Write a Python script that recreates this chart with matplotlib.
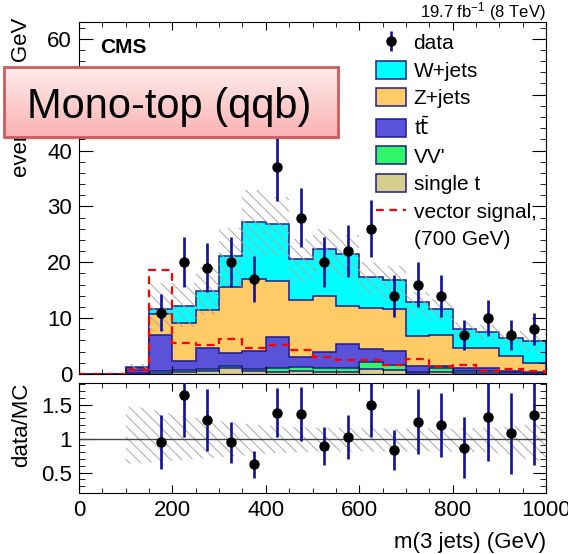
import numpy as np
import matplotlib
matplotlib.use('Agg')
import matplotlib.pyplot as plt
from matplotlib.ticker import MultipleLocator
from matplotlib.patches import Patch, Rectangle
from matplotlib.lines import Line2D

plt.rcParams['font.family'] = ['Liberation Sans', 'DejaVu Sans']
plt.rcParams['mathtext.default'] = 'regular'
plt.rcParams['hatch.linewidth'] = 0.7

# 50 GeV bins from 0 to 1000
edges = np.arange(0, 1050, 50)
centers = 0.5 * (edges[:-1] + edges[1:])

data = np.array([0, 0, 0, 11, 20, 19, 20, 17, 37, 28, 20, 22, 26, 14, 16, 14, 7, 10, 7, 8])

single_t = np.array([0, 0, 0.0, 0.1, 0.4, 0.6, 1.0, 0.5, 0.4, 0.5,
                     0.4, 0.4, 0.9, 0.7, 0.1, 0.3, 0.2, 0.2, 0.1, 0.05])
vv = np.array([0, 0, 0.1, 0.35, 0.4, 0.3, 0.4, 0.4, 0.75, 0.7,
               0.7, 0.7, 1.2, 0.9, 0.3, 0.7, 0.3, 0.3, 0.2, 0.2])
ttbar = np.array([0, 0, 0.7, 6.45, 1.5, 3.8, 2.4, 3.3, 5.45, 1.9,
                  2.9, 4.3, 2.3, 2.5, 1.0, 0.5, 0.6, 0.6, 0.2, 0.1])
zjets = np.array([0, 0, 0.2, 3.9, 6.9, 6.8, 11.8, 12.8, 10.1, 10.2,
                  9.9, 6.8, 7.4, 7.5, 5.4, 5.4, 3.6, 3.5, 2.7, 1.65])
wjets = np.array([0, 0, 0.2, 0.8, 3.0, 3.4, 5.5, 10.2, 10.1, 7.3,
                  8.5, 9.2, 5.6, 5.2, 6.0, 4.8, 3.4, 3.0, 3.3, 3.9])

signal = np.array([0, 0, 0.7, 18.6, 5.6, 5.2, 6.2, 4.7, 5.2, 4.25,
                   3.1, 2.45, 2.45, 1.7, 2.65, 1.2, 1.7, 0.6, 0.9, 0.6])

# relative uncertainty on the total background (up / down)
syst_up = np.array([0, 0, 0.47, 0.40, 0.33, 0.28, 0.24, 0.21, 0.18, 0.17,
                    0.16, 0.16, 0.15, 0.15, 0.15, 0.15, 0.15, 0.16, 0.18, 0.22])
syst_dn = np.array([0, 0, 0.37, 0.34, 0.31, 0.29, 0.26, 0.24, 0.21, 0.20,
                    0.19, 0.19, 0.19, 0.19, 0.19, 0.19, 0.19, 0.20, 0.24, 0.33])

# uncertainty on data/MC for the bins with data
ratio_err = np.array([0.40, 0.61, 0.45, 0.30, 0.20, 0.36, 0.40, 0.28, 0.32,
                      0.47, 0.30, 0.48, 0.47, 0.45, 0.64, 0.59, 0.75])

labels = ['single t', "VV'", r't$\bar{\rm t}$', 'Z+jets', 'W+jets']
colors = ['#d4cd8c', '#33f56a', '#5a52d8', '#ffcb66', '#00ffff']
navy = '#1c1c8c'
ebar = '#10109c'
hatch = '\\\\\\'

W, H = 568, 554
fig = plt.figure(figsize=(W / 100, H / 100), dpi=100)
ax = fig.add_axes([79 / W, 1 - 374 / H, 467 / W, 352 / H])
rax = fig.add_axes([79 / W, 1 - 493 / H, 467 / W, 110 / H])

# stacked backgrounds, drawn from the full sum down
layers = [single_t, vv, ttbar, zjets, wjets]
cum = np.cumsum(layers, axis=0)
for top, c in reversed(list(zip(cum, colors))):
    ax.stairs(top, edges, baseline=0, fill=True, facecolor=c,
              edgecolor=navy, linewidth=1.1, zorder=1)
total = cum[-1]

ax.bar(centers, total * (syst_up + syst_dn), width=50, bottom=total * (1 - syst_dn),
       fill=False, hatch=hatch, edgecolor='#a8a8a8', linewidth=0, zorder=2)

ax.stairs(signal, edges, color='red', linestyle=(0, (3.5, 2.5)), linewidth=1.6, zorder=3)

m = data > 0
dat = ax.errorbar(centers[m], data[m], yerr=np.sqrt(data[m]), fmt='o', color='black',
                  ecolor=ebar, elinewidth=1.9, markersize=6.5, capsize=0, zorder=5)

ax.set_xlim(0, 1000)
ax.set_ylim(0, 63)
ax.xaxis.set_major_locator(MultipleLocator(200))
ax.xaxis.set_minor_locator(MultipleLocator(50))
ax.yaxis.set_major_locator(MultipleLocator(10))
ax.yaxis.set_minor_locator(MultipleLocator(2))
ax.tick_params(which='both', direction='in', top=True, right=True, labelsize=16, pad=5)
ax.tick_params(axis='y', which='major', length=10)
ax.tick_params(axis='y', which='minor', length=4.5)
ax.tick_params(axis='x', which='major', length=6)
ax.tick_params(axis='x', which='minor', length=3.5)
ax.tick_params(axis='x', labelbottom=False)

handles = [dat] + [Patch(facecolor=c, edgecolor=navy, linewidth=1.1)
                   for c in colors[::-1]]
handles += [Line2D([], [], color='red', linestyle=(0, (3.5, 2.5)), linewidth=1.6),
            Line2D([], [], color='none')]
leg_labels = ['data'] + labels[::-1] + ['vector signal,', '(700 GeV)']
ax.legend(handles, leg_labels, loc='upper left', bbox_to_anchor=(376 / W, 1 - 33 / H),
          bbox_transform=fig.transFigure, frameon=False, fontsize=15,
          borderpad=0, borderaxespad=0, handlelength=1.45, handleheight=0.95,
          handletextpad=0.35, labelspacing=0.36)

# ratio panel
ratio = data[m] / total[m]
nz = total > 0
bx_x = np.concatenate([[edges[:-1][nz][0]], centers[nz], [edges[-1]]])
up = 1 + syst_up[nz]
dn = 1 - syst_dn[nz]
up = np.concatenate([[up[0]], up, [up[-1]]])
dn = np.concatenate([[dn[0]], dn, [dn[-1]]])
rax.fill_between(bx_x, dn, up, facecolor='none', hatch=hatch, edgecolor='#a8a8a8',
                 linewidth=0, zorder=1)
rax.axhline(1, color='#444444', linewidth=1, zorder=2)
rax.errorbar(centers[m], ratio, yerr=ratio_err, fmt='o', color='black',
             ecolor=ebar, elinewidth=1.9, markersize=6.5, capsize=0, zorder=5)

rax.set_xlim(0, 1000)
rax.set_ylim(0.2, 1.82)
rax.xaxis.set_major_locator(MultipleLocator(200))
rax.xaxis.set_minor_locator(MultipleLocator(50))
rax.yaxis.set_major_locator(MultipleLocator(0.5))
rax.yaxis.set_minor_locator(MultipleLocator(0.1))
rax.yaxis.set_major_formatter(lambda v, p: f'{v:g}')
rax.tick_params(which='both', direction='in', top=True, right=True, labelsize=16, pad=5)
rax.tick_params(axis='y', which='major', length=9.5)
rax.tick_params(axis='y', which='minor', length=4)
rax.tick_params(axis='x', which='major', length=6)
rax.tick_params(axis='x', which='minor', length=3.5)

fig.text(22 / W, 1 - 18 / H, 'events / 50 GeV', rotation=90, ha='center', va='top', fontsize=16)
fig.text(22 / W, 1 - 383 / H, 'data/MC', rotation=90, ha='center', va='top', fontsize=16)
fig.text(546 / W, 1 - 548 / H, 'm(3 jets) (GeV)', ha='right', va='baseline', fontsize=16)
fig.text(100 / W, 1 - 53 / H, 'CMS', weight='bold', fontsize=15, va='baseline')
fig.text(546 / W, 1 - 17 / H, '19.7 fb$^{-1}$ (8 TeV)', ha='right', va='baseline', fontsize=12)

# title box with a soft shadow
x0, y0, bw, bh = 4, 67, 334, 70
for k, a in zip(range(1, 5), [0.12, 0.09, 0.06, 0.03]):
    fig.add_artist(Rectangle(((x0 + 1) / W, 1 - (y0 + bh + k) / H), bw / W, bh / H,
                             transform=fig.transFigure, facecolor='black', alpha=a,
                             linewidth=0, zorder=9))
box = fig.add_axes([x0 / W, 1 - (y0 + bh) / H, bw / W, bh / H], zorder=10)
g = np.linspace(0, 1, 64)[:, None, None]
top_c = np.array([1.0, 0.93, 0.93])
bot_c = np.array([0.98, 0.70, 0.70])
box.imshow(top_c + (bot_c - top_c) * g, aspect='auto', extent=[0, 1, 0, 1])
box.set_xlim(0, 1)
box.set_ylim(0, 1)
box.axis('off')
box.add_patch(Rectangle((0, 0), 1, 1, transform=box.transAxes, fill=False,
                        edgecolor='#cc5c5c', linewidth=2, clip_on=False))
box.text(0.494, 0.271, 'Mono-top (qqb)', fontsize=30, ha='center', va='baseline')

fig.savefig('out.png', dpi=100)
